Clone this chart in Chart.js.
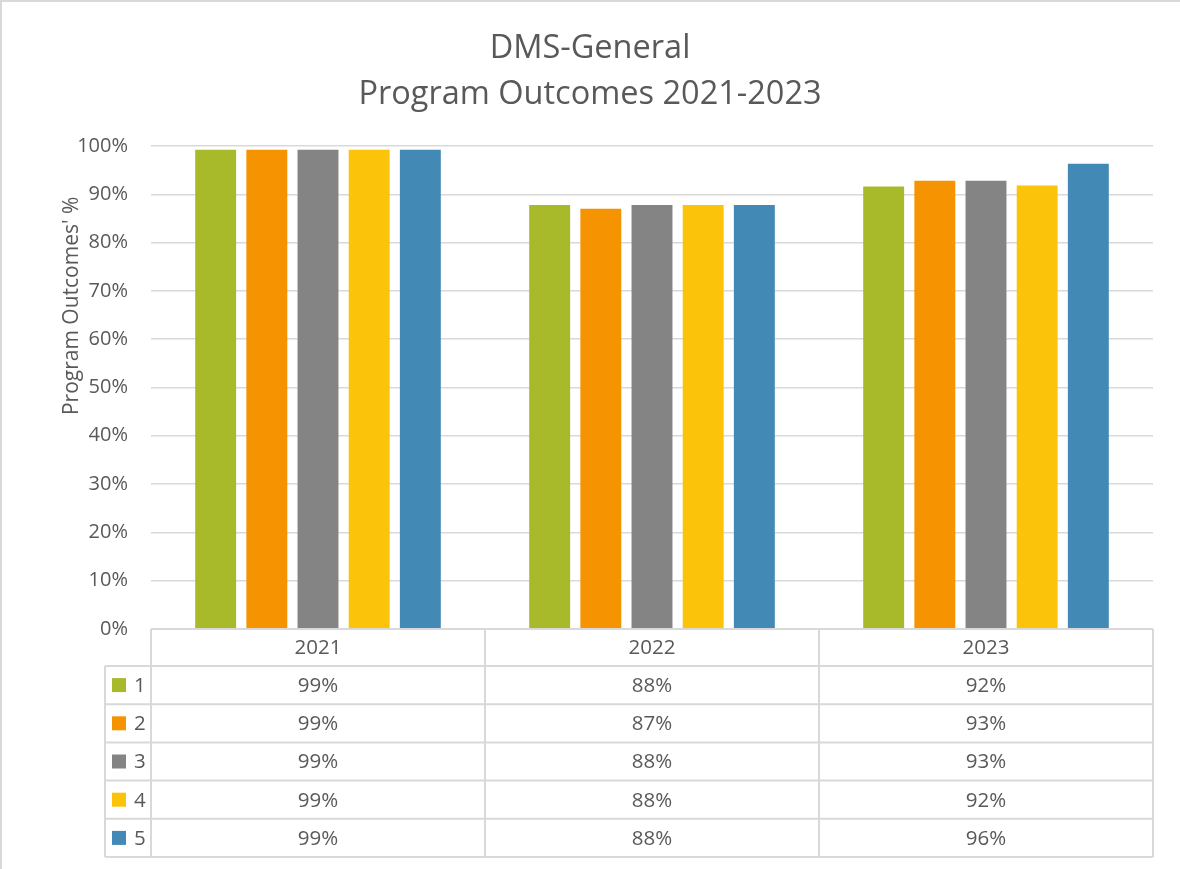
<!DOCTYPE html>
<html>
<head>
<meta charset="utf-8">
<script src="https://cdn.jsdelivr.net/npm/chart.js@4"></script>
<style>
  html, body { margin: 0; padding: 0; background: #fff; }
  #wrap { width: 1180px; height: 869px; position: relative; }
</style>
</head>
<body>
<div id="wrap"><canvas id="chart" width="1180" height="869"></canvas></div>
<script>
// 데이터
const categories = ['2021', '2022', '2023'];
const seriesNames = ['1', '2', '3', '4', '5'];
const series1 = [0.992, 0.878, 0.916];
const series2 = [0.992, 0.870, 0.928];
const series3 = [0.992, 0.878, 0.928];
const series4 = [0.992, 0.878, 0.918];
const series5 = [0.992, 0.878, 0.963];
const yTicks = [0, 0.1, 0.2, 0.3, 0.4, 0.5, 0.6, 0.7, 0.8, 0.9, 1];

const seriesColors = ['#A8B92A', '#F59300', '#848484', '#FCC30B', '#4289B5'];
const allSeries = [series1, series2, series3, series4, series5];

const textColor = '#595959';
const lineColor = '#D9D9D9';
const fontFamily = '"Open Sans", "Noto Sans", sans-serif';

const pct = v => Math.round(v * 100) + '%';

// 데이터 테이블 + 외곽선 + y축 제목
const dataTablePlugin = {
  id: 'dataTable',
  afterDraw(chart) {
    const ctx = chart.ctx;
    const area = chart.chartArea;
    const x = chart.scales.x;
    const catW = (area.right - area.left) / categories.length;
    const headH = 37;
    const rowH = 38.2;
    const keyLeft = 105;
    const top = area.bottom;
    const bottom = top + headH + rowH * seriesNames.length;

    ctx.save();
    // 외곽선 (위, 왼쪽)
    ctx.strokeStyle = lineColor;
    ctx.lineWidth = 2;
    ctx.beginPath();
    ctx.moveTo(1, chart.height); ctx.lineTo(1, 1); ctx.lineTo(chart.width, 1);
    ctx.stroke();

    // 테이블 선
    ctx.beginPath();
    ctx.moveTo(area.left, top); ctx.lineTo(area.right, top);
    for (let r = 0; r <= seriesNames.length; r++) {
      const y = top + headH + rowH * r;
      ctx.moveTo(keyLeft, y); ctx.lineTo(area.right, y);
    }
    for (let i = 0; i <= categories.length; i++) {
      const xx = area.left + catW * i;
      ctx.moveTo(xx, top); ctx.lineTo(xx, bottom);
    }
    ctx.moveTo(keyLeft, top + headH); ctx.lineTo(keyLeft, bottom);
    ctx.stroke();

    // 텍스트
    ctx.fillStyle = textColor;
    ctx.font = '20.5px ' + fontFamily;
    ctx.textBaseline = 'middle';
    ctx.textAlign = 'center';
    categories.forEach((c, i) => {
      const cx = x.getPixelForValue(i);
      ctx.fillText(c, cx, top + headH / 2 + 1);
      allSeries.forEach((s, r) => {
        ctx.fillText(pct(s[i]), cx, top + headH + rowH * r + rowH / 2 + 1);
      });
    });
    seriesNames.forEach((name, r) => {
      const cy = top + headH + rowH * r + rowH / 2;
      ctx.fillStyle = seriesColors[r];
      ctx.fillRect(112, cy - 7, 14, 14);
      ctx.fillStyle = textColor;
      ctx.textAlign = 'left';
      ctx.fillText(name, 134, cy + 1);
    });

    // y축 제목
    ctx.translate(72, area.top + (area.bottom - area.top) * 0.331);
    ctx.rotate(-Math.PI / 2);
    ctx.textAlign = 'center';
    ctx.font = '21px ' + fontFamily;
    ctx.fillText("Program Outcomes' %", 0, 0);
    ctx.restore();
  }
};

new Chart(document.getElementById('chart'), {
  type: 'bar',
  data: {
    labels: categories,
    datasets: seriesNames.map((name, i) => ({
      label: name,
      data: allSeries[i],
      backgroundColor: seriesColors[i],
      borderWidth: 0,
      categoryPercentage: 0.766,
      barPercentage: 0.8
    }))
  },
  options: {
    responsive: false,
    animation: false,
    layout: { padding: { left: 27, right: 27, top: 0, bottom: 240 } },
    plugins: {
      legend: { display: false },
      tooltip: { enabled: false },
      title: {
        display: true,
        text: ['DMS-General', 'Program Outcomes 2021-2023'],
        color: textColor,
        font: { family: fontFamily, size: 32.5, weight: 'normal', lineHeight: 1.415 },
        padding: { top: 26, bottom: 28 }
      }
    },
    scales: {
      x: { display: false },
      y: {
        min: 0,
        max: 1,
        afterFit(scale) { scale.width = 124; },
        afterBuildTicks(scale) { scale.ticks = yTicks.map(v => ({ value: v })); },
        ticks: {
          color: textColor,
          padding: 23,
          font: { family: fontFamily, size: 20 },
          callback: v => pct(v)
        },
        grid: { color: lineColor, lineWidth: 1.5, drawTicks: false },
        border: { display: false }
      }
    }
  },
  plugins: [dataTablePlugin]
});
</script>
</body>
</html>
